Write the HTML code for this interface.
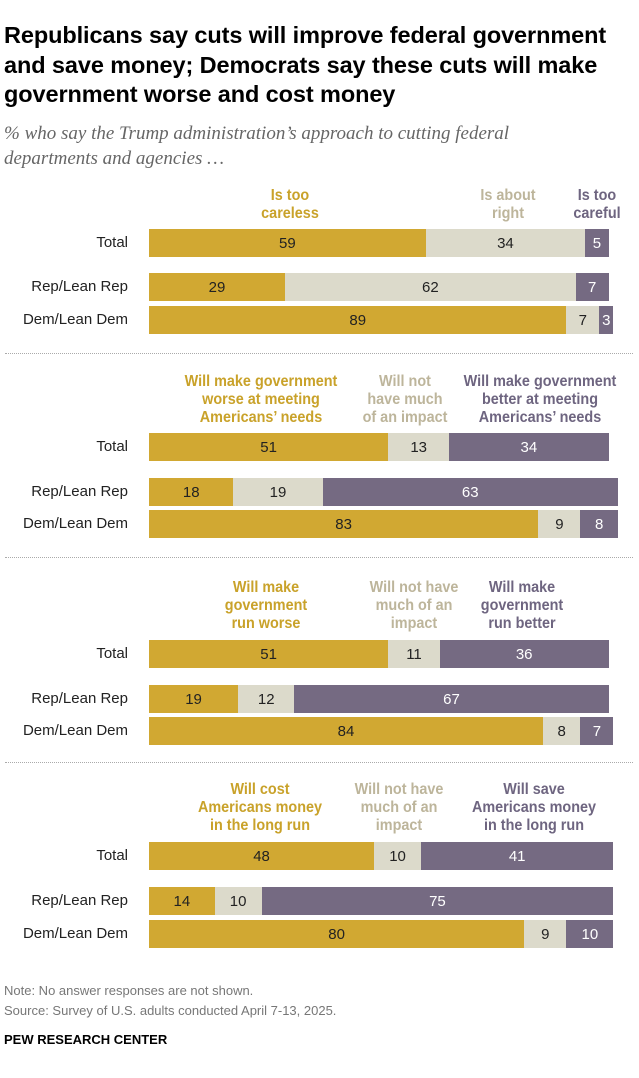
<!DOCTYPE html>
<html><head><meta charset="utf-8"><style>
body{margin:0;background:#fff;font-family:"Liberation Sans",sans-serif;}
#wrap{position:relative;width:639px;height:1078px;overflow:hidden;background:#fff}
.t{position:absolute;white-space:nowrap}
.title{left:4px;top:21px;font-size:23.5px;font-weight:bold;color:#000;line-height:29.5px;white-space:normal;width:632px;letter-spacing:-0.1px}
.sub{left:4px;top:121px;font-size:19px;font-style:italic;color:#666;line-height:25px;font-family:"Liberation Serif",serif;white-space:normal;width:570px}
.hl{position:absolute;font-family:"Liberation Sans Narrow","Liberation Sans",sans-serif;font-weight:bold;font-size:16px;line-height:18px;text-align:center;transform:translateX(-50%) scaleX(0.9);white-space:nowrap}
.rl{position:absolute;font-size:15px;color:#222;width:128px;text-align:right;left:0}
.seg{position:absolute;height:28px;display:flex;align-items:center;justify-content:center;font-size:15px}
.sep{position:absolute;left:5px;width:628px;border-top:1px dotted #aaa}
.foot{font-size:13px;color:#777;left:4px}
</style></head><body><div id="wrap">
<div class="t title">Republicans say cuts will improve federal government and save money; Democrats say these cuts will make government worse and cost money</div>
<div class="t sub">% who say the Trump administration’s approach to cutting federal departments and agencies …</div>
<div class="t foot" style="top:983px">Note: No answer responses are not shown.</div>
<div class="t foot" style="top:1003px">Source: Survey of U.S. adults conducted April 7-13, 2025.</div>
<div class="t" style="left:4px;top:1032px;font-size:13px;font-weight:bold;color:#000">PEW RESEARCH CENTER</div>
</div>
<script>
const groups=["Total","Rep/Lean Rep","Dem/Lean Dem"];
const v1a=[59,29,89], v1b=[34,62,7], v1c=[5,7,3];
const v2a=[51,18,83], v2b=[13,19,9], v2c=[34,63,8];
const v3a=[51,19,84], v3b=[11,12,8], v3c=[36,67,7];
const v4a=[48,14,80], v4b=[10,10,9], v4c=[41,75,10];
const labels1=["Is too<br>careless","Is about<br>right","Is too<br>careful"];
const labels2=["Will make government<br>worse at meeting<br>Americans’ needs","Will not<br>have much<br>of an impact","Will make government<br>better at meeting<br>Americans’ needs"];
const labels3=["Will make<br>government<br>run worse","Will not have<br>much of an<br>impact","Will make<br>government<br>run better"];
const labels4=["Will cost<br>Americans money<br>in the long run","Will not have<br>much of an<br>impact","Will save<br>Americans money<br>in the long run"];
const W=document.getElementById('wrap');
const X0=149, SC=4.69;
function x(v){return X0+v*SC;}
const colors=["#D1A832","#DCDACB","#756A82"], tcol=["#222","#222","#fff"], hcol=["#C9A22A","#BDB59B","#6E6580"];
const panels=[
 {a:v1a,b:v1b,c:v1c,lab:labels1,ly:187,lx:[290,508,597],rows:[229,273,306]},
 {a:v2a,b:v2b,c:v2c,lab:labels2,ly:373,lx:[261,405,540],rows:[433,478,510]},
 {a:v3a,b:v3b,c:v3c,lab:labels3,ly:579,lx:[266,414,522],rows:[640,685,717]},
 {a:v4a,b:v4b,c:v4c,lab:labels4,ly:781,lx:[260,399,534],rows:[842,887,920]}];
panels.forEach((p,pi)=>{
 if(pi>0){const s=document.createElement('div');s.className='sep';s.style.top=[0,353,557,762][pi]+'px';
 
 W.appendChild(s);}
 p.lab.forEach((l,i)=>{const d=document.createElement('div');d.className='hl';d.innerHTML=l;
  d.style.left=p.lx[i]+'px';d.style.top=p.ly+'px';d.style.color=hcol[i];
  
  W.appendChild(d);});
 groups.forEach((g,gi)=>{
  const y=p.rows[gi];
  const r=document.createElement('div');r.className='rl';r.textContent=g;r.style.top=(y+5)+'px';
  
  W.appendChild(r);
  const vals=[p.a[gi],p.b[gi],p.c[gi]];let cum=0;
  vals.forEach((v,k)=>{const s=document.createElement('div');s.className='seg';
   s.style.left=x(cum)+'px';s.style.top=y+'px';s.style.width=(x(cum+v)-x(cum))+'px';
   s.style.background=colors[k];s.style.color=tcol[k];s.textContent=v;cum+=v;
   
   W.appendChild(s);});
 });
});
</script></body></html>
